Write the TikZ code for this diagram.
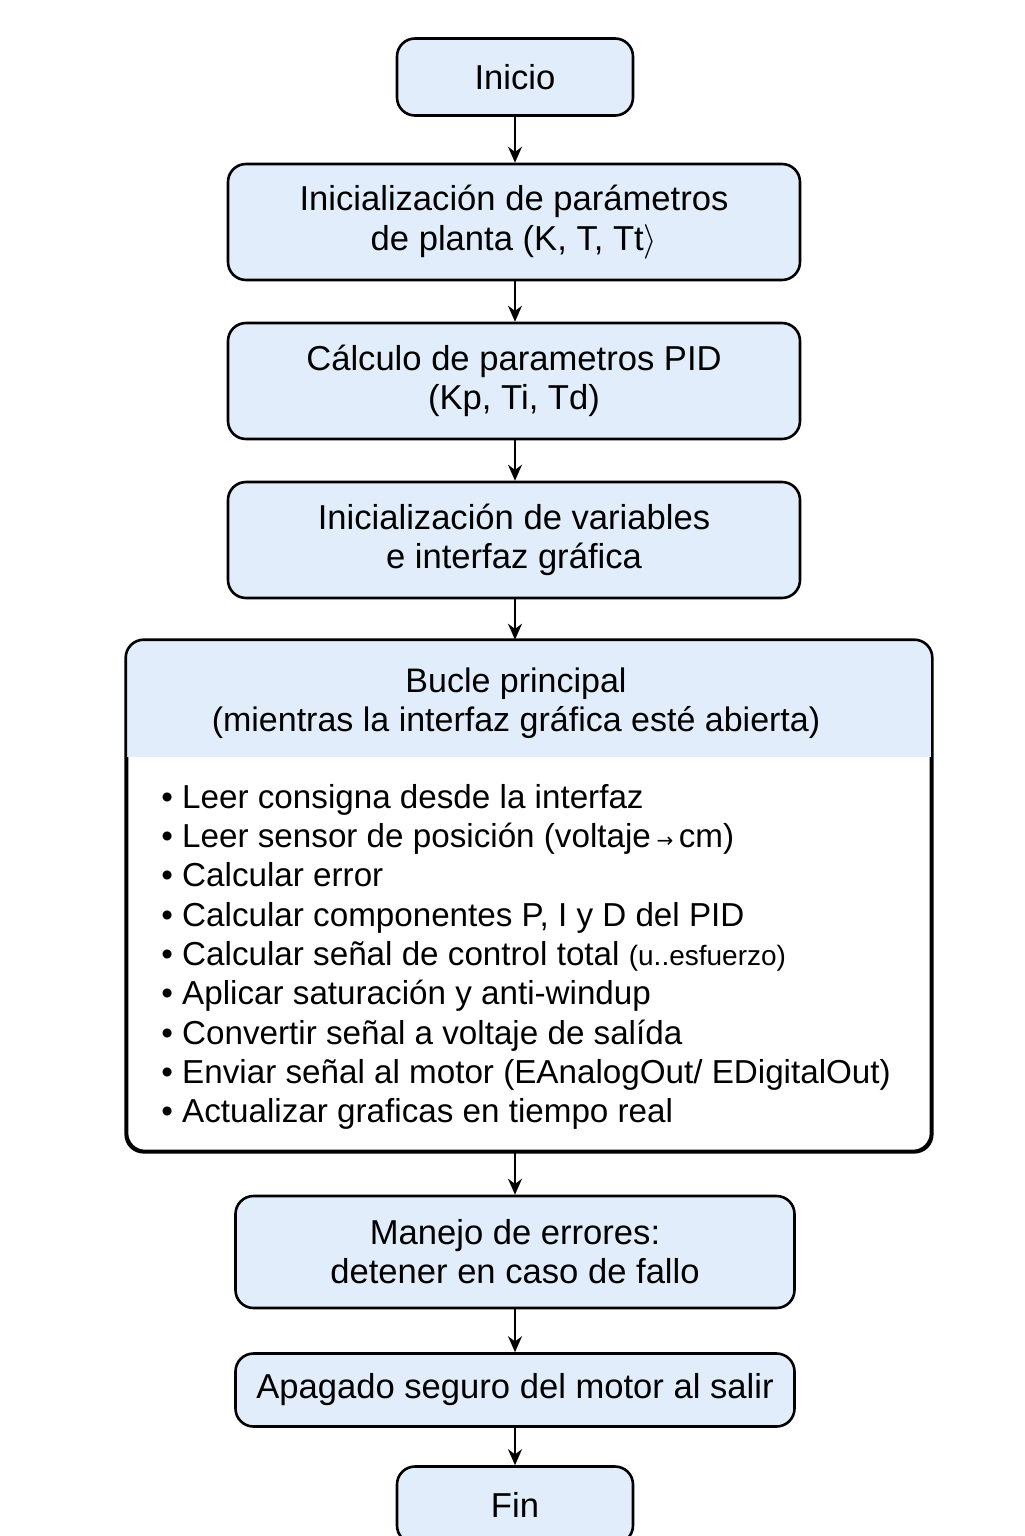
\documentclass[tikz,border=0pt]{standalone}
\usepackage{fontspec}
\setmainfont{Liberation Sans}
\newfontfamily\symfont{DejaVu Sans}
\usetikzlibrary{arrows.meta}
\definecolor{boxblue}{RGB}{226,237,251}
\newcommand{\flowfont}{\fontsize{17.3}{19.6}\selectfont}
\newcommand{\listfont}{\fontsize{16.6}{19.65}\selectfont}
\begin{document}
\begin{tikzpicture}[x=0.5pt,y=-0.5pt,
	box/.style={draw,line width=1.3pt,rounded corners=9pt,fill=boxblue,align=center,font=\flowfont,inner sep=0pt},
	flow/.style={-{Stealth[length=8pt,width=7pt]},line width=1pt}]
	\useasboundingbox (0,0) rectangle (1024,1536);
	\node[box,minimum width=118pt,minimum height=38.5pt] (start) at (515,77) {Inicio};
	\node[box,minimum width=286pt,minimum height=58pt] (param) at (514,222) {Inicialización de parámetros\\de planta (K, T, Tt$\rangle$};
	\node[box,minimum width=286pt,minimum height=58pt] (pid) at (514,381) {Cálculo de parametros PID\\(Kp, Ti, Td)};
	\node[box,minimum width=286pt,minimum height=58pt] (vars) at (514,540) {Inicialización de variables\\e interfaz gráfica};
	\node[draw,line width=1.3pt,rounded corners=9pt,fill=white,minimum width=402pt,minimum height=255pt,inner sep=0pt] (loop) at (529,896) {};
	\begin{scope}
		\clip[rounded corners=9pt] (loop.north west) rectangle (loop.south east);
		\fill[boxblue] (loop.north west) rectangle ([yshift=-58.5pt]loop.north east);
	\end{scope}
	\draw[line width=1.3pt,rounded corners=9pt] (loop.north west) rectangle (loop.south east);
	\node[align=center,font=\fontsize{17}{19.6}\selectfont] (head) at (516,703) {Bucle principal\\(mientras la interfaz gráfica esté abierta)};
	\node[anchor=west,align=left,font=\listfont,inner sep=0pt] (tasks) at (161,957) {%
		• Leer consigna desde la interfaz\\
		• Leer sensor de posición (voltaje\,{\symfont\fontsize{10}{10}\selectfont →}\,cm)\\
		• Calcular error\\
		• Calcular componentes P, I y D del PID\\
		• Calcular señal de control total {\fontsize{14}{19.6}\selectfont(u..esfuerzo)}\\
		• Aplicar saturación y anti-windup\\
		• Convertir señal a voltaje de salída\\
		• Enviar señal al motor (EAnalogOut/ EDigitalOut)\\
		• Actualizar graficas en tiempo real};
	\node[box,minimum width=279.5pt,minimum height=56pt] (errors) at (515,1252) {Manejo de errores:\\detener en caso de fallo};
	\node[box,minimum width=279.5pt,minimum height=36.5pt] (stop) at (515,1390) {Apagado seguro del motor al salir};
	\node[box,minimum width=118pt,minimum height=38.5pt] (end) at (515,1505) {Fin};
	\foreach \a/\b in {start/param,param/pid,pid/vars,vars/loop,loop/errors,errors/stop,stop/end}
		\draw[flow] (\a.south -| start) -- (\b.north -| start);
\end{tikzpicture}
\end{document}
